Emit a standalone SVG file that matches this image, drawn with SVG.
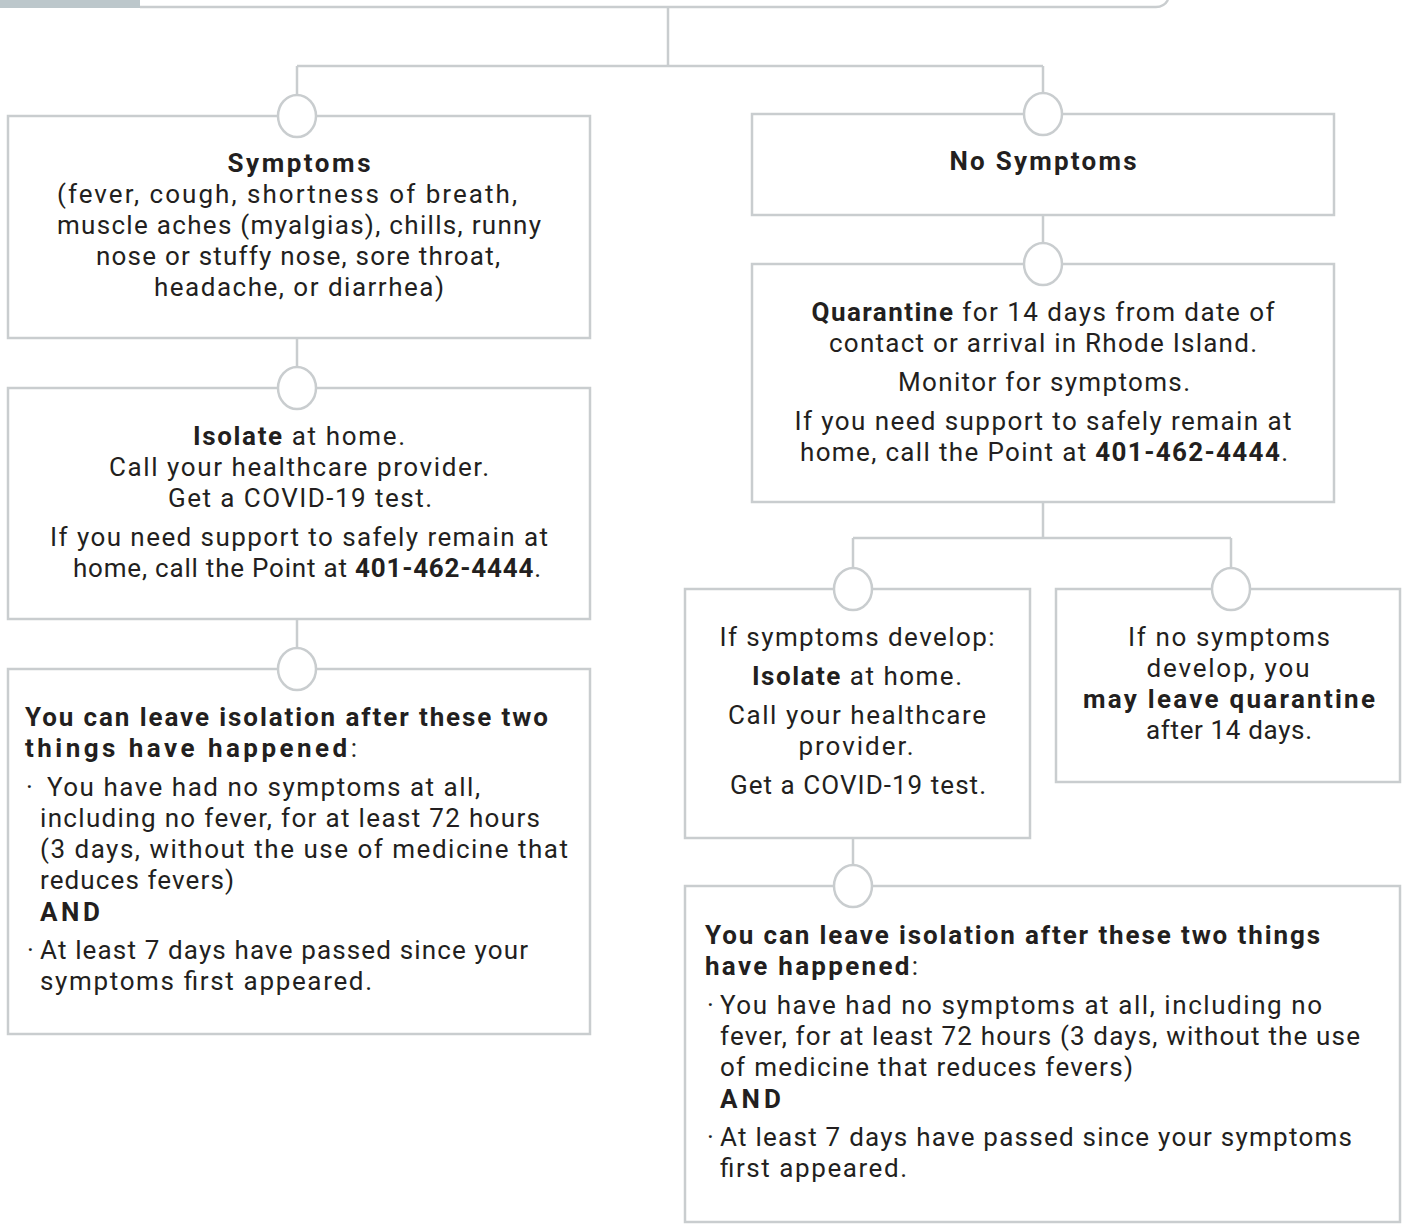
<svg xmlns="http://www.w3.org/2000/svg" width="1402" height="1226" viewBox="0 0 1402 1226">
<style>
.box{fill:#ffffff;stroke:#c9cdcf;stroke-width:2.5}
.con{fill:none;stroke:#c9cdcf;stroke-width:2.5}
.dot{fill:#ffffff;stroke:#c9cdcf;stroke-width:2.5}
text{font-family:Roboto,"Liberation Sans",sans-serif;font-size:26px;fill:#231f20}
.c{text-anchor:middle}
.b{font-weight:700}
</style>
<rect width="1402" height="1226" fill="#ffffff"/>
<g id="header">
<rect x="0" y="0" width="140" height="8" fill="#bcc7cb"/>
<path class="con" d="M140 7 H1156 Q1164 7 1168 0"/>
</g>
<g id="connectors">
<path class="con" d="M668 7 V66 M297 66 H1043 M297 66 V116 M1043 66 V114"/>
<path class="con" d="M297 338 V388 M297 619 V669"/>
<path class="con" d="M1043 215 V264 M1043 502 V538 M853 538 H1231 M853 538 V589 M1231 538 V589"/>
<path class="con" d="M853 838 V886"/>
</g>
<g id="symptoms">
<rect class="box" x="8" y="116" width="582" height="222"/>
<ellipse class="dot" cx="297" cy="116" rx="19" ry="21"/>
<text class="c b" x="299" y="172" textLength="143" lengthAdjust="spacing">Symptoms</text>
<text class="c" x="287" y="203" textLength="460" lengthAdjust="spacing">(fever, cough, shortness of breath,</text>
<text class="c" x="299" y="234" textLength="484" lengthAdjust="spacing">muscle aches (myalgias), chills, runny</text>
<text class="c" x="298" y="265" textLength="404" lengthAdjust="spacing">nose or stuffy nose, sore throat,</text>
<text class="c" x="299" y="296" textLength="290" lengthAdjust="spacing">headache, or diarrhea)</text>
</g>
<g id="isolate">
<rect class="box" x="8" y="388" width="582" height="231"/>
<ellipse class="dot" cx="297" cy="388" rx="19" ry="21"/>
<text class="c" x="299" y="445" textLength="212" lengthAdjust="spacing"><tspan class="b">Isolate</tspan> at home.</text>
<text class="c" x="299" y="476" textLength="380" lengthAdjust="spacing">Call your healthcare provider.</text>
<text class="c" x="300" y="507" textLength="264" lengthAdjust="spacing">Get a COVID-19 test.</text>
<text class="c" x="299" y="546" textLength="498" lengthAdjust="spacing">If you need support to safely remain at</text>
<text class="c" x="307" y="577" textLength="468" lengthAdjust="spacing">home, call the Point at <tspan class="b">401-462-4444</tspan>.</text>
</g>
<g id="leave-left">
<rect class="box" x="8" y="669" width="582" height="365"/>
<ellipse class="dot" cx="297" cy="669" rx="19" ry="21"/>
<text class="b" x="25" y="726" textLength="523" lengthAdjust="spacing">You can leave isolation after these two</text>
<text x="25" y="757" textLength="332" lengthAdjust="spacing"><tspan class="b">things have happened</tspan>:</text>
<text x="26" y="796">·</text>
<text x="47" y="796" textLength="433" lengthAdjust="spacing">You have had no symptoms at all,</text>
<text x="40" y="827" textLength="500" lengthAdjust="spacing">including no fever, for at least 72 hours</text>
<text x="40" y="858" textLength="528" lengthAdjust="spacing">(3 days, without the use of medicine that</text>
<text x="40" y="889" textLength="194" lengthAdjust="spacing">reduces fevers)</text>
<text class="b" x="40" y="921" textLength="60" lengthAdjust="spacing">AND</text>
<text x="27" y="959">·</text>
<text x="40" y="959" textLength="488" lengthAdjust="spacing">At least 7 days have passed since your</text>
<text x="40" y="990" textLength="332" lengthAdjust="spacing">symptoms first appeared.</text>
</g>
<g id="no-symptoms">
<rect class="box" x="752" y="114" width="582" height="101"/>
<ellipse class="dot" cx="1043" cy="114" rx="19" ry="21"/>
<text class="c b" x="1043" y="170" textLength="187" lengthAdjust="spacing">No Symptoms</text>
</g>
<g id="quarantine">
<rect class="box" x="752" y="264" width="582" height="238"/>
<ellipse class="dot" cx="1043" cy="264" rx="19" ry="21"/>
<text class="c" x="1043" y="321" textLength="463" lengthAdjust="spacing"><tspan class="b">Quarantine</tspan> for 14 days from date of</text>
<text class="c" x="1043" y="352" textLength="428" lengthAdjust="spacing">contact or arrival in Rhode Island.</text>
<text class="c" x="1044" y="391" textLength="292" lengthAdjust="spacing">Monitor for symptoms.</text>
<text class="c" x="1043" y="430" textLength="497" lengthAdjust="spacing">If you need support to safely remain at</text>
<text class="c" x="1044" y="461" textLength="488" lengthAdjust="spacing">home, call the Point at <tspan class="b">401-462-4444</tspan>.</text>
</g>
<g id="develop">
<rect class="box" x="685" y="589" width="345" height="249"/>
<ellipse class="dot" cx="853" cy="589" rx="19" ry="21"/>
<text class="c" x="857" y="646" textLength="275" lengthAdjust="spacing">If symptoms develop:</text>
<text class="c" x="857" y="685" textLength="210" lengthAdjust="spacing"><tspan class="b">Isolate</tspan> at home.</text>
<text class="c" x="857" y="724" textLength="258" lengthAdjust="spacing">Call your healthcare</text>
<text class="c" x="856" y="755" textLength="115" lengthAdjust="spacing">provider.</text>
<text class="c" x="858" y="794" textLength="256" lengthAdjust="spacing">Get a COVID-19 test.</text>
</g>
<g id="no-develop">
<rect class="box" x="1056" y="589" width="344" height="193"/>
<ellipse class="dot" cx="1231" cy="589" rx="19" ry="21"/>
<text class="c" x="1229" y="646" textLength="202" lengthAdjust="spacing">If no symptoms</text>
<text class="c" x="1228" y="677" textLength="163" lengthAdjust="spacing">develop, you</text>
<text class="c b" x="1229" y="708" textLength="292" lengthAdjust="spacing">may leave quarantine</text>
<text class="c" x="1229" y="739" textLength="166" lengthAdjust="spacing">after 14 days.</text>
</g>
<g id="leave-right">
<rect class="box" x="685" y="886" width="715" height="336"/>
<ellipse class="dot" cx="853" cy="886" rx="19" ry="21"/>
<text class="b" x="705" y="944" textLength="615" lengthAdjust="spacing">You can leave isolation after these two things</text>
<text x="705" y="975" textLength="213" lengthAdjust="spacing"><tspan class="b">have happened</tspan>:</text>
<text x="707" y="1014">·</text>
<text x="720" y="1014" textLength="602" lengthAdjust="spacing">You have had no symptoms at all, including no</text>
<text x="720" y="1045" textLength="640" lengthAdjust="spacing">fever, for at least 72 hours (3 days, without the use</text>
<text x="720" y="1076" textLength="413" lengthAdjust="spacing">of medicine that reduces fevers)</text>
<text class="b" x="720" y="1108" textLength="61" lengthAdjust="spacing">AND</text>
<text x="707" y="1146">·</text>
<text x="720" y="1146" textLength="632" lengthAdjust="spacing">At least 7 days have passed since your symptoms</text>
<text x="720" y="1177" textLength="187" lengthAdjust="spacing">first appeared.</text>
</g>
</svg>
